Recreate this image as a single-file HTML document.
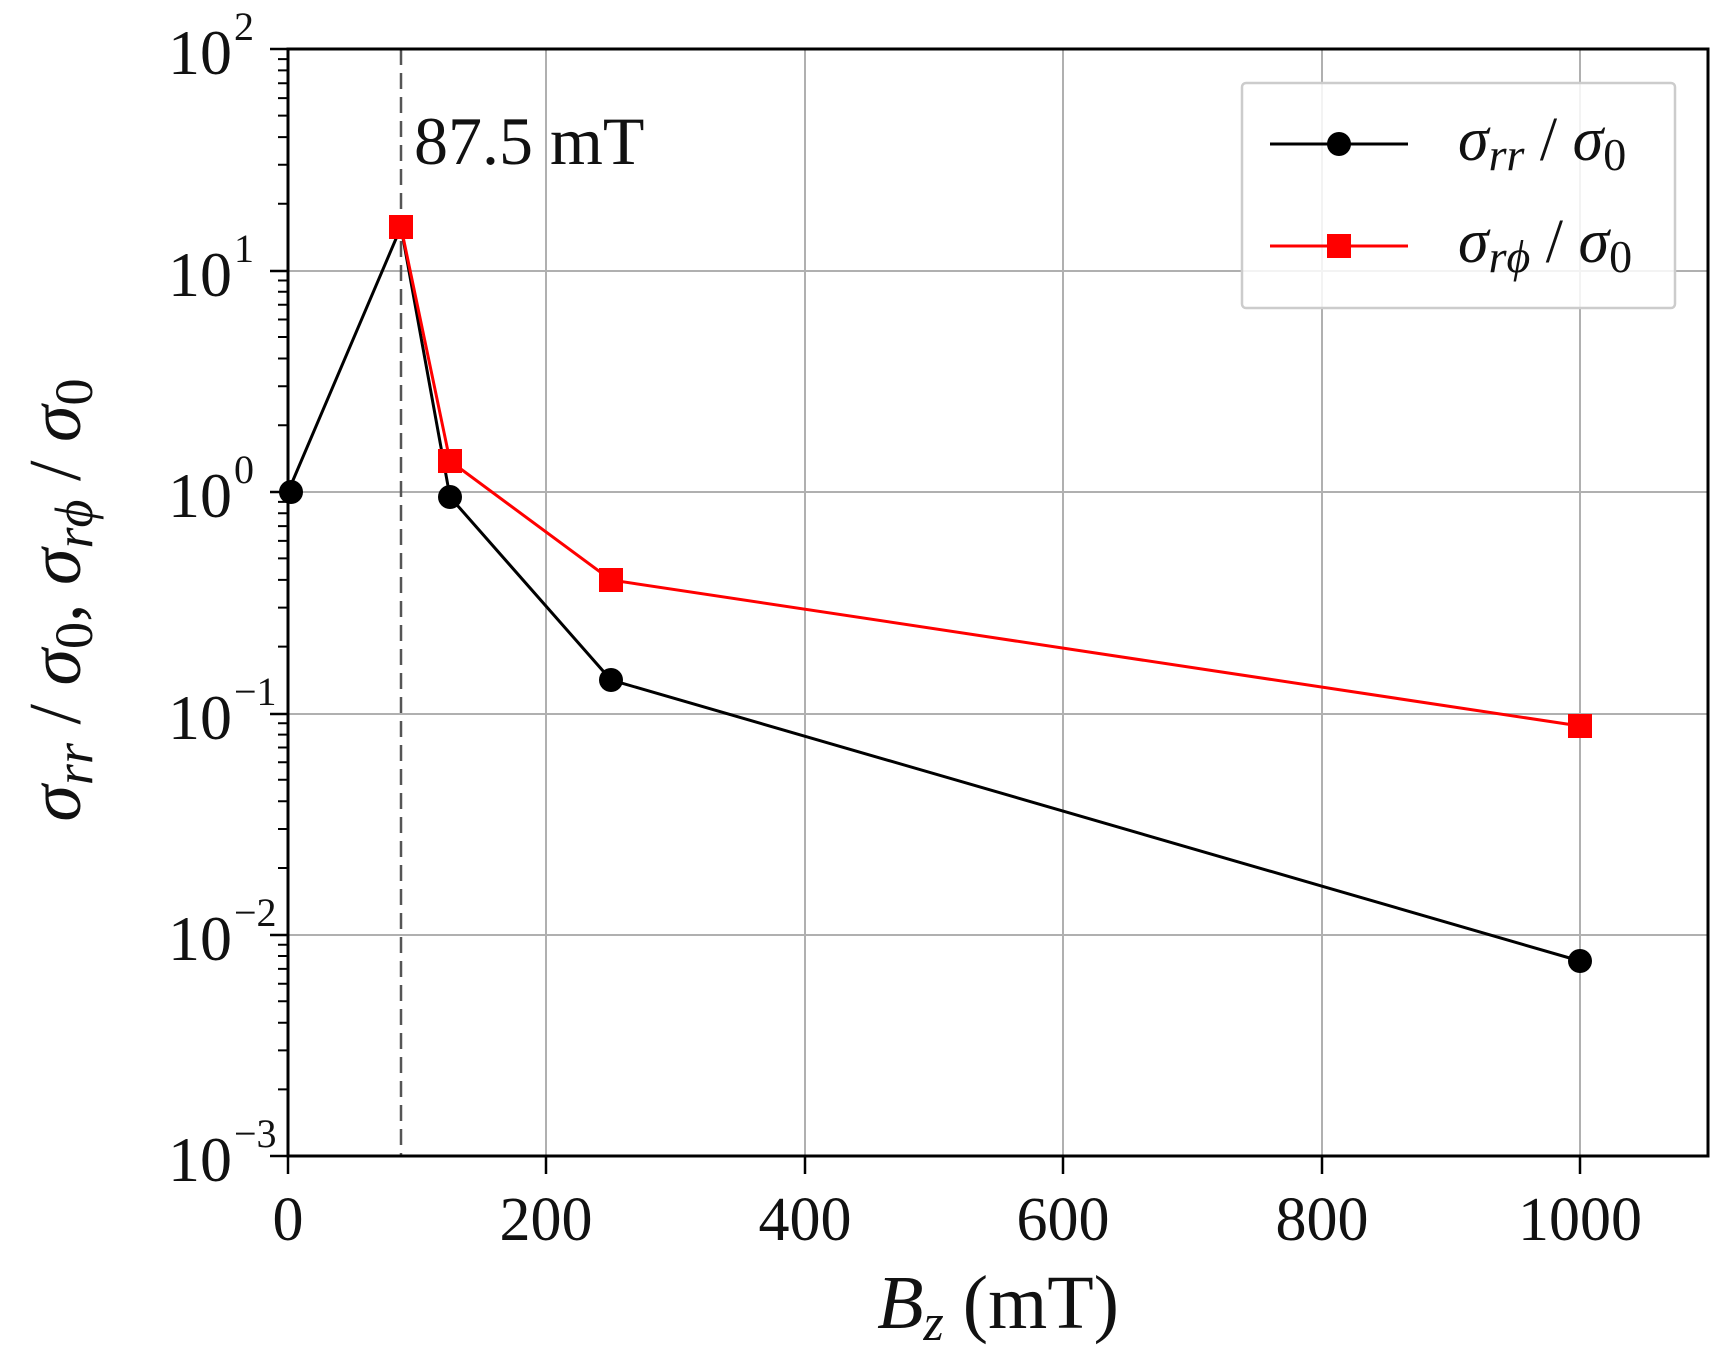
<!DOCTYPE html>
<html><head><meta charset="utf-8"><style>
html,body{margin:0;padding:0;background:#fff}
svg{display:block}
text{font-family:"Liberation Serif","DejaVu Serif",serif;fill:#111}
</style></head><body>
<svg width="1730" height="1353" viewBox="0 0 1730 1353" xmlns="http://www.w3.org/2000/svg">
<rect width="1730" height="1353" fill="#fff"/>
<g stroke="#b0b0b0" stroke-width="2">
<line x1="546" y1="49" x2="546" y2="1156"/>
<line x1="805" y1="49" x2="805" y2="1156"/>
<line x1="1063" y1="49" x2="1063" y2="1156"/>
<line x1="1322" y1="49" x2="1322" y2="1156"/>
<line x1="1580" y1="49" x2="1580" y2="1156"/>
<line x1="288" y1="271" x2="1708" y2="271"/>
<line x1="288" y1="492" x2="1708" y2="492"/>
<line x1="288" y1="714" x2="1708" y2="714"/>
<line x1="288" y1="935" x2="1708" y2="935"/>
</g>
<line x1="401" y1="49" x2="401" y2="1156" stroke="#555" stroke-width="2.5" stroke-dasharray="16,8"/>
<text x="414" y="164" font-size="68">87.5 mT</text>
<polyline fill="none" stroke="#000" stroke-width="3" points="288,492 401,227 450,497 611,680 1580,961"/>
<polyline fill="none" stroke="#ff0000" stroke-width="3" points="401,227 450,461 611,580 1580,726"/>
<g fill="#000">
<circle cx="291" cy="492" r="12"/><circle cx="450" cy="497" r="12"/><circle cx="611" cy="680" r="12"/><circle cx="1580" cy="961" r="12"/>
</g>
<g fill="#ff0000">
<rect x="389" y="215" width="24" height="24"/><rect x="438" y="449" width="24" height="24"/><rect x="599" y="568" width="24" height="24"/><rect x="1568" y="714" width="24" height="24"/>
</g>
<rect x="288" y="49" width="1420" height="1107" fill="none" stroke="#000" stroke-width="3"/>
<g stroke="#000" stroke-width="2.5">
<line x1="270" y1="49" x2="288" y2="49"/><line x1="270" y1="271" x2="288" y2="271"/><line x1="270" y1="492" x2="288" y2="492"/><line x1="270" y1="714" x2="288" y2="714"/><line x1="270" y1="935" x2="288" y2="935"/><line x1="270" y1="1156" x2="288" y2="1156"/>
</g>
<g stroke="#000" stroke-width="2">
<path d="M278 1089.4H288M278 1050.4H288M278 1022.7H288M278 1001.2H288M278 983.7H288M278 968.9H288M278 956.0H288M278 944.7H288
M278 868.0H288M278 829.0H288M278 801.3H288M278 779.8H288M278 762.3H288M278 747.5H288M278 734.6H288M278 723.3H288
M278 646.6H288M278 607.6H288M278 579.9H288M278 558.4H288M278 540.9H288M278 526.1H288M278 513.2H288M278 501.9H288
M278 425.2H288M278 386.2H288M278 358.5H288M278 337.0H288M278 319.5H288M278 304.7H288M278 291.8H288M278 280.5H288
M278 203.8H288M278 164.8H288M278 137.1H288M278 115.6H288M278 98.1H288M278 83.3H288M278 70.4H288M278 59.1H288"/>
</g>
<g stroke="#000" stroke-width="2.5">
<line x1="288" y1="1156" x2="288" y2="1174"/><line x1="546" y1="1156" x2="546" y2="1174"/><line x1="805" y1="1156" x2="805" y2="1174"/><line x1="1063" y1="1156" x2="1063" y2="1174"/><line x1="1322" y1="1156" x2="1322" y2="1174"/><line x1="1580" y1="1156" x2="1580" y2="1174"/>
</g>
<g font-size="62" text-anchor="middle">
<text x="288" y="1240">0</text><text x="546" y="1240">200</text><text x="805" y="1240">400</text><text x="1063" y="1240">600</text><text x="1322" y="1240">800</text><text x="1580" y="1240">1000</text>
</g>
<g font-size="64" text-anchor="end">
<text x="232" y="74">10</text><text x="232" y="296">10</text><text x="232" y="517">10</text><text x="232" y="739">10</text><text x="232" y="960">10</text><text x="232" y="1181">10</text>
</g>
<g font-size="40">
<text x="234" y="40">2</text><text x="234" y="262">1</text><text x="234" y="483">0</text><text x="234" y="705">−1</text><text x="234" y="926">−2</text><text x="234" y="1147">−3</text>
</g>
<text x="998" y="1328" font-size="76" text-anchor="middle"><tspan font-style="italic">B</tspan><tspan font-size="52" font-style="italic" dy="12">z</tspan><tspan dy="-12"> (mT)</tspan></text>
<text transform="translate(80,600) rotate(-90)" font-size="74" text-anchor="middle"><tspan font-style="italic">σ</tspan><tspan font-size="54" font-style="italic" dy="12">rr</tspan><tspan dy="-12"> / </tspan><tspan font-style="italic">σ</tspan><tspan font-size="54" dy="12">0</tspan><tspan dy="-12">, </tspan><tspan font-style="italic">σ</tspan><tspan font-size="54" font-style="italic" dy="12">rϕ</tspan><tspan dy="-12"> / </tspan><tspan font-style="italic">σ</tspan><tspan font-size="54" dy="12">0</tspan></text>
<rect x="1242" y="83" width="433" height="225" fill="#fff" fill-opacity="0.85" stroke="#ccc" stroke-width="2.5" rx="4"/>
<line x1="1270" y1="144" x2="1408" y2="144" stroke="#000" stroke-width="3"/>
<circle cx="1339" cy="144" r="12" fill="#000"/>
<line x1="1270" y1="246" x2="1408" y2="246" stroke="#ff0000" stroke-width="3"/>
<rect x="1327" y="234" width="24" height="24" fill="#ff0000"/>
<text x="1458" y="160" font-size="62"><tspan font-style="italic">σ</tspan><tspan font-size="46" font-style="italic" dy="10">rr</tspan><tspan dy="-10"> / </tspan><tspan font-style="italic">σ</tspan><tspan font-size="46" dy="10">0</tspan></text>
<text x="1458" y="262" font-size="62"><tspan font-style="italic">σ</tspan><tspan font-size="46" font-style="italic" dy="10">rϕ</tspan><tspan dy="-10"> / </tspan><tspan font-style="italic">σ</tspan><tspan font-size="46" dy="10">0</tspan></text>
</svg>
</body></html>
